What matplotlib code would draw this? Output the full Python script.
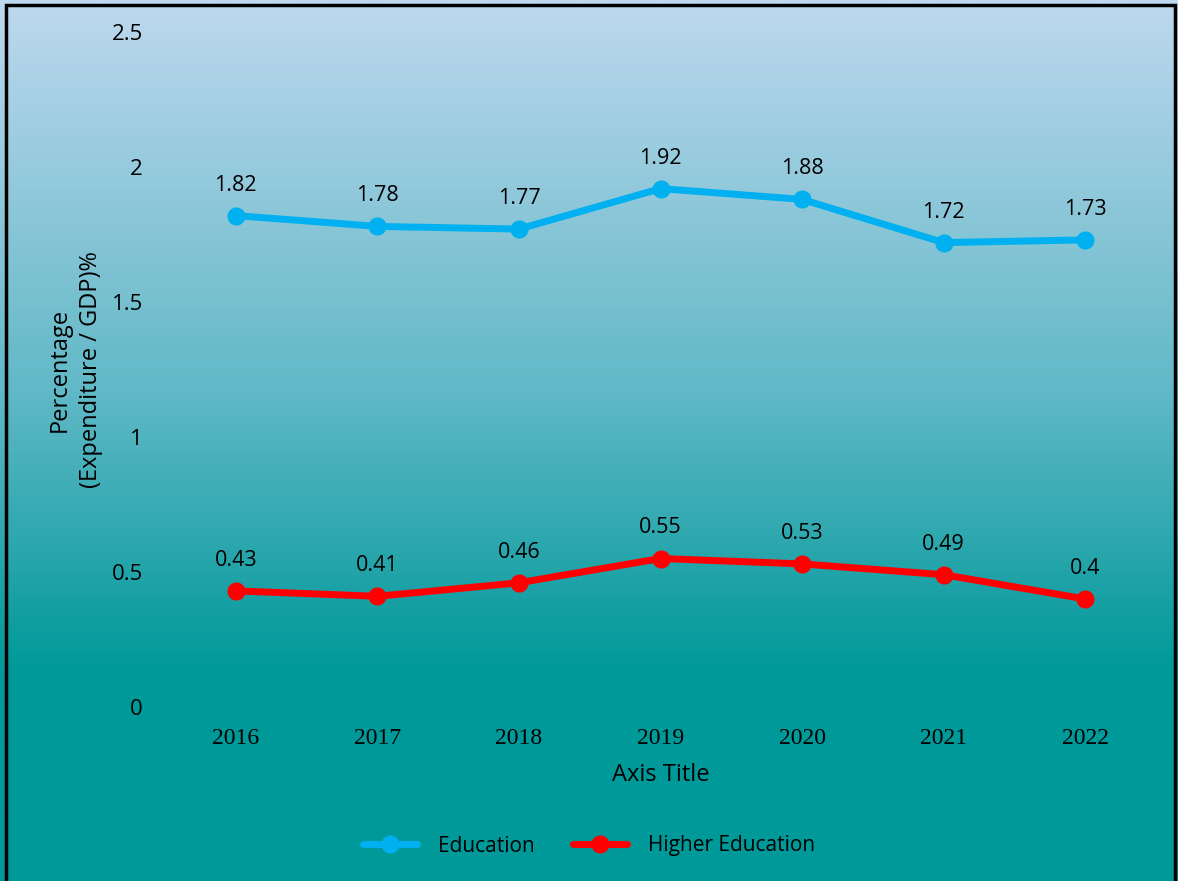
import numpy as np
import matplotlib
matplotlib.use("Agg")
import matplotlib.pyplot as plt
from matplotlib.colors import LinearSegmentedColormap
from matplotlib.patches import Rectangle

years = ["2016", "2017", "2018", "2019", "2020", "2021", "2022"]
education = [1.82, 1.78, 1.77, 1.92, 1.88, 1.72, 1.73]
higher_education = [0.43, 0.41, 0.46, 0.55, 0.53, 0.49, 0.4]
y_ticks = [0, 0.5, 1, 1.5, 2, 2.5]
y_tick_labels = ["0", "0.5", "1", "1.5", "2", "2.5"]

plt.rcParams['font.family'] = ['Open Sans', 'DejaVu Sans']

fig = plt.figure(figsize=(11.78, 8.81), dpi=100)

# background gradient (light blue -> teal)
bg = fig.add_axes([0, 0, 1, 1], zorder=-5)
cmap = LinearSegmentedColormap.from_list(
    "bg", [(0.0, "#BED8EE"), (0.45, "#5FB8C6"), (0.76, "#009999"), (1.0, "#009999")])
grad = np.linspace(0, 1, 500).reshape(-1, 1)
bg.imshow(grad, aspect="auto", cmap=cmap, extent=[0, 1, 0, 1], origin="upper")
bg.set_xlim(0, 1)
bg.set_ylim(0, 1)
bg.axis("off")
bg.add_patch(Rectangle((6 / 1178, -0.01), 1169 / 1178, 1 - 5 / 881 + 0.01,
                       fill=False, edgecolor="black", linewidth=2.5))

ax = fig.add_axes([165 / 1178, (881 - 707) / 881, 991 / 1178, 675 / 881])
ax.patch.set_alpha(0)
x = np.arange(len(years))

ax.plot(x, education, color="#00B0F0", linewidth=5, marker="o", markersize=12,
        label="Education", solid_capstyle="round")
ax.plot(x, higher_education, color="#FF0000", linewidth=5, marker="o", markersize=12,
        label="Higher Education", solid_capstyle="round")

# data labels
for series in (education, higher_education):
    for xi, v in zip(x, series):
        ax.annotate(f"{v:g}", (xi, v), xytext=(0, 22), textcoords="offset points",
                    ha="center", va="center", fontsize=15.5)

ax.set_xlim(-0.5, len(years) - 0.5)
ax.set_ylim(0, 2.5)
ax.set_xticks(x)
ax.set_xticklabels(years, fontfamily="Liberation Serif", fontsize=17)
ax.set_yticks(y_ticks)
ax.set_yticklabels(y_tick_labels, fontsize=16)
ax.tick_params(axis="both", length=0)
ax.tick_params(axis="y", pad=16)
ax.tick_params(axis="x", pad=15)
for s in ax.spines.values():
    s.set_visible(False)

ax.set_xlabel("Axis Title", fontsize=17, labelpad=10)
ax.set_ylabel("Percentage\n(Expenditure / GDP)%", fontsize=17, labelpad=6,
              linespacing=1.4)

fig.legend(loc="center", bbox_to_anchor=(0.5, (881 - 846) / 881), ncol=2, frameon=False,
           fontsize=15, handlelength=2.6, handletextpad=1.0, columnspacing=1.8)

fig.savefig("out.png", dpi=100)
